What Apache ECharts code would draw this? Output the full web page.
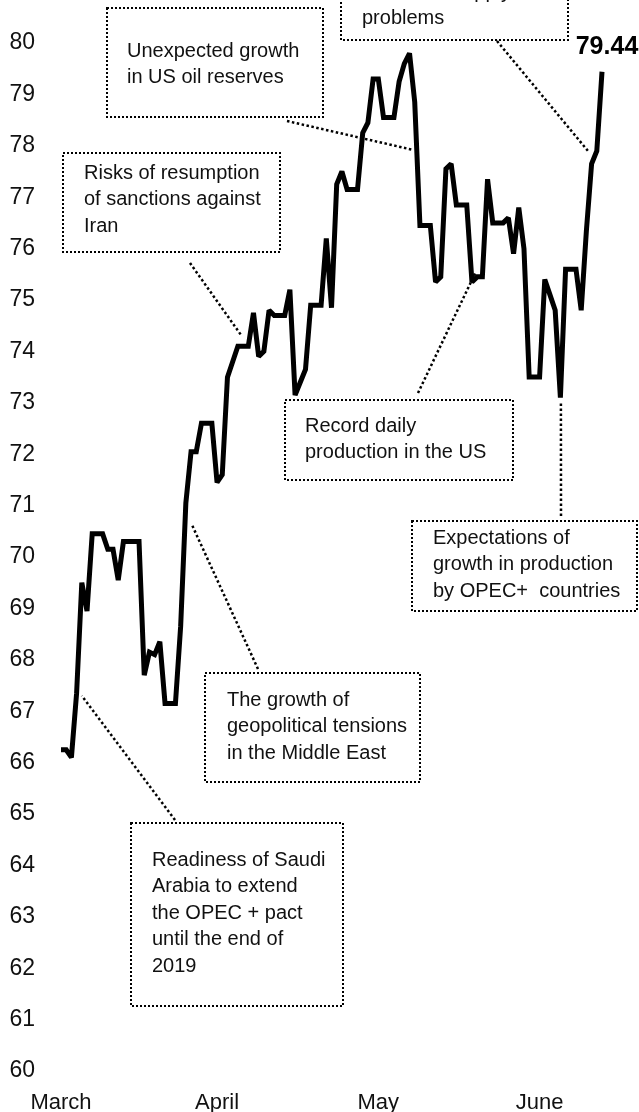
<!DOCTYPE html>
<html>
<head>
<meta charset="utf-8">
<script src="https://cdn.jsdelivr.net/npm/echarts@6/dist/echarts.min.js"></script>
<style>
  html, body { margin: 0; padding: 0; background: #fff; }
  #chart { width: 639px; height: 1112px; }
</style>
</head>
<body>
<div id="chart"></div>
<script>
// Brent, USD per barrel, one value per calendar day (weekends repeat Friday)
const prices = [
  66.25, 66.25, 66.1, 67.35, 69.5, 68.95, 70.45, 70.45, 70.45, 70.15,
  70.15, 69.55, 70.3, 70.3, 70.3, 70.3, 67.7, 68.15, 68.1, 68.35,
  67.15, 67.15, 67.15, 68.65, 71.05, 72.05, 72.05, 72.6, 72.6, 72.6,
  71.45, 71.6, 73.5, 73.8, 74.1, 74.1, 74.1, 74.75, 73.9, 74.0,
  74.8, 74.7, 74.7, 74.7, 75.2, 73.15, 73.4, 73.65, 74.9, 74.9,
  74.9, 76.2, 74.85, 77.25, 77.5, 77.15, 77.15, 77.15, 78.25, 78.45,
  79.3, 79.3, 78.55, 78.55, 78.55, 79.25, 79.6, 79.8, 78.85, 76.45,
  76.45, 76.45, 75.35, 75.45, 77.55, 77.65, 76.85, 76.85, 76.85, 75.35,
  75.45, 75.45, 77.35, 76.5, 76.5, 76.5, 76.6, 75.9, 76.8, 76.0,
  73.5, 73.5, 73.5, 75.4, 75.1, 74.8, 73.1, 75.6, 75.6, 75.6,
  74.8, 76.35, 77.65, 77.9, 79.44
];
const monthNames = ["March", "April", "May", "June"];
const monthTicks = [0, 30, 61, 92];

const noteTexts = [
  "Canadian supply\nproblems",
  "Unexpected growth\nin US oil reserves",
  "Risks of resumption\nof sanctions against\nIran",
  "Record daily\nproduction in the US",
  "Expectations of\ngrowth in production\nby OPEC+  countries",
  "The growth of\ngeopolitical tensions\nin the Middle East",
  "Readiness of Saudi\nArabia to extend\nthe OPEC + pact\nuntil the end of\n2019"
];
// where each leader line touches the price line (day index, price)
const noteAnchors = [
  [101.3, 77.9], [67.7, 77.92], [34.6, 74.32], [79.8, 75.56],
  [96.1, 73.03], [25.2, 70.62], [4.0, 67.3]
];

const font = '"Liberation Sans", Arial, sans-serif';

const chart = echarts.init(document.getElementById("chart"));

chart.setOption({
  animation: false,
  grid: { left: 61, right: 37, top: 43, bottom: 41, containLabel: false, outerBoundsMode: "none" },
  xAxis: {
    type: "value",
    min: 0,
    max: prices.length - 1,
    axisLine: { show: false },
    axisTick: { show: false },
    splitLine: { show: false },
    axisLabel: {
      customValues: monthTicks,
      formatter: (v) => monthNames[monthTicks.indexOf(v)] || "",
      fontFamily: font,
      fontSize: 22,
      color: "#111",
      margin: 21
    }
  },
  yAxis: {
    type: "value",
    min: 60,
    max: 80,
    interval: 1,
    axisLine: { show: false },
    axisTick: { show: false },
    splitLine: { show: false },
    axisLabel: {
      fontFamily: font,
      fontSize: 23,
      color: "#111",
      margin: 26
    }
  },
  series: [
    {
      type: "line",
      data: prices.map((v, i) => [i, v]),
      showSymbol: false,
      lineStyle: { color: "#000", width: 5, join: "miter", miterLimit: 2 }
    }
  ]
});

// annotation boxes: [x, y, w, h], text left, first line centre, box-side leader end
const boxes = [
  { rect: [341, -70, 227, 110], tx: 362, ty: -8, from: [497, 41] },
  { rect: [107, 8, 216, 109], tx: 127, ty: 51, from: [287, 121] },
  { rect: [63, 153, 217, 99], tx: 84, ty: 173, from: [190, 263] },
  { rect: [285, 400, 228, 80], tx: 305, ty: 426, from: [418, 393] },
  { rect: [412, 521, 225, 90], tx: 433, ty: 538, from: [561, 516] },
  { rect: [205, 673, 215, 109], tx: 227, ty: 700, from: [258, 669] },
  { rect: [131, 823, 212, 183], tx: 152, ty: 860, from: [175, 820] }
];
const lh = 26.5;
const graphics = [];
boxes.forEach((b, i) => {
  const to = chart.convertToPixel({ gridIndex: 0 }, noteAnchors[i]);
  graphics.push({
    type: "line",
    shape: { x1: b.from[0], y1: b.from[1], x2: to[0], y2: to[1] },
    style: { stroke: "#000", lineWidth: 2.5, lineDash: [2.5, 2.5] },
    z: 10
  });
  graphics.push({
    type: "rect",
    shape: { x: b.rect[0], y: b.rect[1], width: b.rect[2], height: b.rect[3] },
    style: { fill: "#fff", stroke: "#000", lineWidth: 2, lineDash: [2, 2] },
    z: 11
  });
  graphics.push({
    type: "text",
    x: b.tx,
    y: b.ty - lh / 2,
    style: {
      text: noteTexts[i],
      font: "20px " + font,
      lineHeight: lh,
      fill: "#111",
      verticalAlign: "top",
      align: "left"
    },
    z: 12
  });
});
const last = chart.convertToPixel({ gridIndex: 0 }, [prices.length - 1, prices[prices.length - 1]]);
graphics.push({
  type: "text",
  x: last[0] + 5,
  y: last[1] - 25,
  style: {
    text: prices[prices.length - 1].toFixed(2),
    font: "bold 25px " + font,
    fill: "#000",
    align: "center",
    verticalAlign: "middle"
  },
  z: 12
});
chart.setOption({ graphic: graphics });
</script>
</body>
</html>
